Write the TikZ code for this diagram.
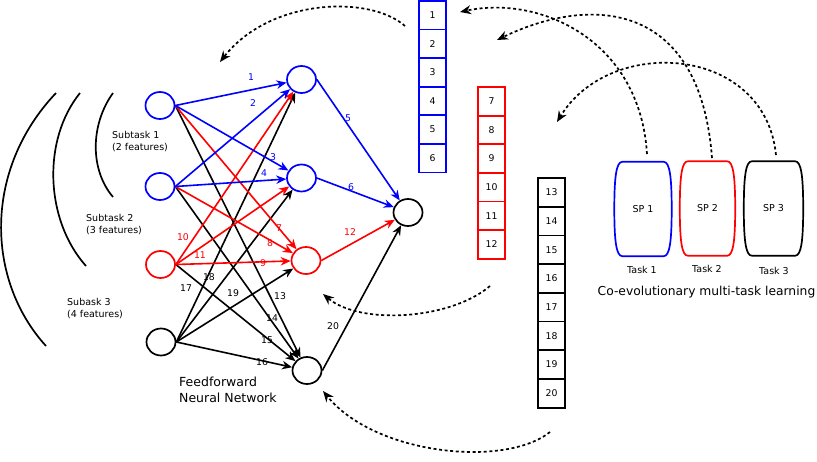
\documentclass[tikz,border=0pt]{standalone}
\usepackage{fontspec}
\setmainfont{DejaVu Sans}
\usetikzlibrary{shapes.geometric,arrows.meta}
\newcommand{\spbarrel}[2]{%
 \draw[#2, line width=1.7pt] (#1.north west) -- (#1.north east)
   .. controls ([xshift=6pt]#1.north east) and ([xshift=8pt,yshift=-15pt]#1.north east) .. ([xshift=8pt]#1.east)
   .. controls ([xshift=8pt,yshift=15pt]#1.south east) and ([xshift=6pt]#1.south east) .. (#1.south east)
   -- (#1.south west)
   .. controls ([xshift=-6pt]#1.south west) and ([xshift=-8pt,yshift=15pt]#1.south west) .. ([xshift=-8pt]#1.west)
   .. controls ([xshift=-8pt,yshift=-15pt]#1.north west) and ([xshift=-6pt]#1.north west) .. cycle;}
\begin{document}
\begin{tikzpicture}[x=1pt,y=-1pt,
  neuron/.style={ellipse, draw, line width=1.7pt, minimum width=29pt, minimum height=27pt, inner sep=0pt},
  conn/.style={line width=1.6pt, -{Stealth[length=10pt,width=8.5pt]}},
  wlab/.style={font=\fontsize{9.3}{10}\selectfont, inner sep=1pt},
  wbox/.style={draw, line width=1.8pt, minimum width=27pt, minimum height=28.6pt, inner sep=0pt, font=\fontsize{9.3}{10}\selectfont, fill=white},
  flow/.style={line width=1.7pt, dash pattern=on 3pt off 2.6pt, -{Stealth[length=11pt,width=9pt]}},
  spnode/.style={minimum width=41pt, minimum height=94pt, inner sep=0pt, font=\fontsize{9.5}{11}\selectfont},
  txt/.style={font=\fontsize{9.5}{12}\selectfont, align=left, inner sep=0pt, anchor=west},
  arc/.style={line width=1.7pt},
]
\useasboundingbox (0,0) rectangle (817,461);

% left arcs
\draw[arc] (113,93) .. controls (90,125) and (90,170) .. (113,197);
\draw[arc] (80,93) .. controls (42,140) and (45,220) .. (86,266);
\draw[arc] (56,93) .. controls (-17,170) and (-14,280) .. (46,346);

% subtask texts
\node[txt] (st1) at (112,142) {Subtask 1\\(2 features)};
\node[txt] (st2) at (86,225) {Subtask 2\\(3 features)};
\node[txt] (st3) at (67,309) {Subask 3\\(4 features)};
\node[txt, font=\fontsize{12.5}{16}\selectfont] (ffn) at (179,390) {Feedforward\\Neural Network};

% neurons
\node[neuron, draw=blue] (i1) at (160,105.5) {};
\node[neuron, draw=blue] (i2) at (160,186.5) {};
\node[neuron, draw=red] (i3) at (160.5,264.5) {};
\node[neuron] (i4) at (161,342) {};
\node[neuron, draw=blue] (h1) at (301.5,79.5) {};
\node[neuron, draw=blue] (h2) at (301.5,178) {};
\node[neuron, draw=red] (h3) at (306,260.5) {};
\node[neuron] (h4) at (307,370.5) {};
\node[neuron] (o) at (408,212.5) {};

% black connections
\draw[conn] (i1.east) -- (h4);
\draw[conn] (i2.east) -- (h4);
\draw[conn] (i3.east) -- (h4);
\draw[conn] (i4.east) -- (h4);
\draw[conn] (i4.east) -- (h1);
\draw[conn] (i4.east) -- (h2);
\draw[conn] (i4.east) -- (h3);
\draw[conn] (h4.east) -- (o);
% red connections
\draw[conn, red] (i1.east) -- (h3);
\draw[conn, red] (i2.east) -- (h3);
\draw[conn, red] (i3.east) -- (h3);
\draw[conn, red] (i3.east) -- (h1);
\draw[conn, red] (i3.east) -- (h2);
\draw[conn, red] (h3.east) -- (o);
% blue connections
\draw[conn, blue] (i1.east) -- (h1);
\draw[conn, blue] (i2.east) -- (h1);
\draw[conn, blue] (i1.east) -- (h2);
\draw[conn, blue] (i2.east) -- (h2);
\draw[conn, blue] (h1.east) -- (o);
\draw[conn, blue] (h2.east) -- (o);

% weight labels
\node[wlab, text=blue] (w1) at (251,77) {1};
\node[wlab, text=blue] (w2) at (253,103) {2};
\node[wlab, text=blue] (w3) at (273,157) {3};
\node[wlab, text=blue] (w4) at (264,173) {4};
\node[wlab, text=blue] (w5) at (348,118) {5};
\node[wlab, text=blue] (w6) at (351,187) {6};
\node[wlab, text=red] (w7) at (279,228) {7};
\node[wlab, text=red] (w8) at (270,243) {8};
\node[wlab, text=red] (w9) at (263,263) {9};
\node[wlab, text=red] (w10) at (183,237) {10};
\node[wlab, text=red] (w11) at (200,255) {11};
\node[wlab, text=red] (w12) at (350,232) {12};
\node[wlab] (w13) at (280,296) {13};
\node[wlab] (w14) at (272,318) {14};
\node[wlab] (w15) at (267,340) {15};
\node[wlab] (w16) at (262,362) {16};
\node[wlab] (w17) at (186,288) {17};
\node[wlab] (w18) at (209,277) {18};
\node[wlab] (w19) at (233,293) {19};
\node[wlab] (w20) at (333,326) {20};

% weight boxes
\foreach \i in {1,...,6}
  \node[wbox, draw=blue] (b\i) at (432.5,{0.8+28.6*(\i-0.5)}) {\i};
\foreach \i in {7,...,12}
  \node[wbox, draw=red] (b\i) at (491.5,{87+28.6*(\i-6.5)}) {\i};
\foreach \i in {13,...,20}
  \node[wbox, minimum height=28.7pt] (b\i) at (551.5,{178+28.7*(\i-12.5)}) {\i};

% subpopulations
\node[spnode] (sp1) at (643,209) {SP 1};
\node[spnode, minimum width=39pt] (sp2) at (707.5,208.5) {SP 2};
\node[spnode, minimum width=43pt] (sp3) at (773.5,208.5) {SP 3};
\spbarrel{sp1}{blue}
\spbarrel{sp2}{red}
\spbarrel{sp3}{black}
\node[wlab, font=\fontsize{9.5}{11}\selectfont] (t1) at (642,270) {Task 1};
\node[wlab, font=\fontsize{9.5}{11}\selectfont] (t2) at (707,269) {Task 2};
\node[wlab, font=\fontsize{9.5}{11}\selectfont] (t3) at (774,271) {Task 3};
\node[inner sep=0pt, font=\fontsize{12.3}{14}\selectfont] (co) at (706.5,292.5) {Co-evolutionary multi-task learning};

% dotted flow arrows
\coordinate (s1) at (647,154);
\coordinate (e1) at (460,12);
\coordinate (s2) at (712,158);
\coordinate (e2) at (497,40);
\coordinate (s3) at (776,155);
\coordinate (e3) at (557,122);
\coordinate (s4) at (405,26);
\coordinate (e4) at (220,62);
\coordinate (s5) at (490,286);
\coordinate (e5) at (323,294);
\coordinate (s6) at (550,432);
\coordinate (e6) at (323,391);
\draw[flow] (s1) .. controls (640,40) and (540,-5) .. (e1);
\draw[flow] (s2) .. controls (700,0) and (590,-5) .. (e2);
\draw[flow] (s3) .. controls (765,45) and (610,35) .. (e3);
\draw[flow] (s4) .. controls (370,-5) and (270,-2) .. (e4);
\draw[flow] (s5) .. controls (450,320) and (360,325) .. (e5);
\draw[flow] (s6) .. controls (505,468) and (375,455) .. (e6);
\end{tikzpicture}
\end{document}
